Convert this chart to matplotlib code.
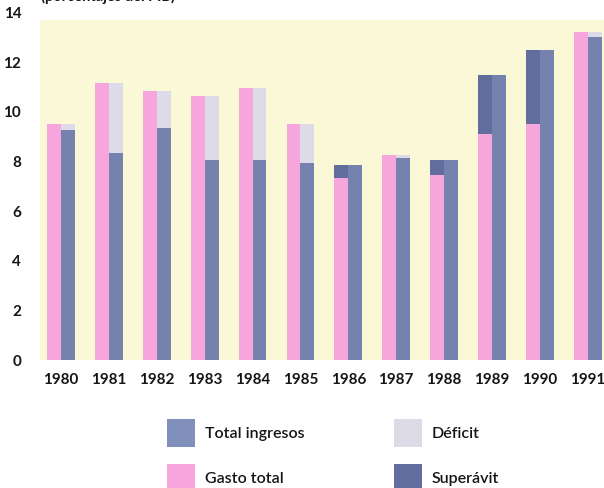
import numpy as np
import matplotlib.pyplot as plt
from matplotlib.patches import Patch

# ------------------------------------------------------------------
# Data (percent of GDP)
# ------------------------------------------------------------------
years = ["1980", "1981", "1982", "1983", "1984", "1985",
         "1986", "1987", "1988", "1989", "1990", "1991"]
gasto_total = [9.5, 11.15, 10.85, 10.65, 10.95, 9.5,
               7.35, 8.25, 7.45, 9.1, 9.5, 13.2]
total_ingresos = [9.25, 8.35, 9.35, 8.05, 8.05, 7.95,
                  7.85, 8.15, 8.05, 11.5, 12.5, 13.0]
y_ticks = [0, 2, 4, 6, 8, 10, 12, 14]

# ------------------------------------------------------------------
# Style
# ------------------------------------------------------------------
PINK = "#f6a5dd"
BLUE = "#7682ae"
DARK = "#616d9d"
GREY = "#dcdbe7"
LEGEND_BLUE = "#8190bb"
YELLOW = "#fbf8d7"
TEXT = "#151515"

plt.rcParams["font.family"] = ["Lato", "DejaVu Sans"]

gasto = np.array(gasto_total)
ingresos = np.array(total_ingresos)
deficit = np.clip(gasto - ingresos, 0, None)
superavit = np.clip(ingresos - gasto, 0, None)

x = np.arange(len(years))
w = 0.29

fig = plt.figure(figsize=(6.04, 4.88), dpi=100)
ax = fig.add_axes([40 / 604, 128 / 488, 564 / 604, 347.4 / 488])
ax.set_facecolor("white")

# pale yellow panel behind the bars
ax.axhspan(0, 13.7, color=YELLOW, zorder=0, lw=0)

# gasto total (left column) with surplus on top
ax.bar(x - w / 2, gasto, w, color=PINK, lw=0, zorder=2)
ax.bar(x - w / 2, superavit, w, bottom=gasto, color=DARK, lw=0, zorder=2)
# total ingresos (right column) with deficit on top
ax.bar(x + w / 2, ingresos, w, color=BLUE, lw=0, zorder=2)
ax.bar(x + w / 2, deficit, w, bottom=ingresos, color=GREY, lw=0, zorder=2)

ax.set_xlim(-0.44, 11.34)
ax.set_ylim(0, 14)
ax.set_yticks(y_ticks)
ax.set_xticks(x)
ax.set_xticklabels(years)
for s in ax.spines.values():
    s.set_visible(False)
ax.tick_params(axis="y", length=0, pad=13.5, labelsize=11, labelcolor=TEXT)
ax.tick_params(axis="x", length=0, pad=9, labelsize=11, labelcolor=TEXT)
for lab in ax.get_xticklabels() + ax.get_yticklabels():
    lab.set_fontweight("bold")

# title line, cut off by the scan at the top edge
fig.text(0.068, 1 - 1.5 / 488, "(porcentajes del PIB)", fontsize=10.5,
         fontweight="bold", color=TEXT, va="baseline", ha="left")

# legend (2 x 2)
handles = [
    Patch(facecolor=LEGEND_BLUE, lw=0),
    Patch(facecolor=PINK, lw=0),
    Patch(facecolor=GREY, lw=0),
    Patch(facecolor=DARK, lw=0),
]
labels = ["Total ingresos", "Gasto total", "Déficit", "Superávit"]
leg = fig.legend(
    handles, labels, ncol=2, loc="upper left",
    bbox_to_anchor=(167 / 604, 1 - 419 / 488),
    frameon=False, borderpad=0, borderaxespad=0,
    handlelength=1.75, handleheight=2.315,
    labelspacing=1.06, handletextpad=0.62, columnspacing=5.6,
    prop={"weight": "semibold", "size": 11.5},
)
for t in leg.get_texts():
    t.set_color(TEXT)

fig.savefig("out.png", dpi=100)
